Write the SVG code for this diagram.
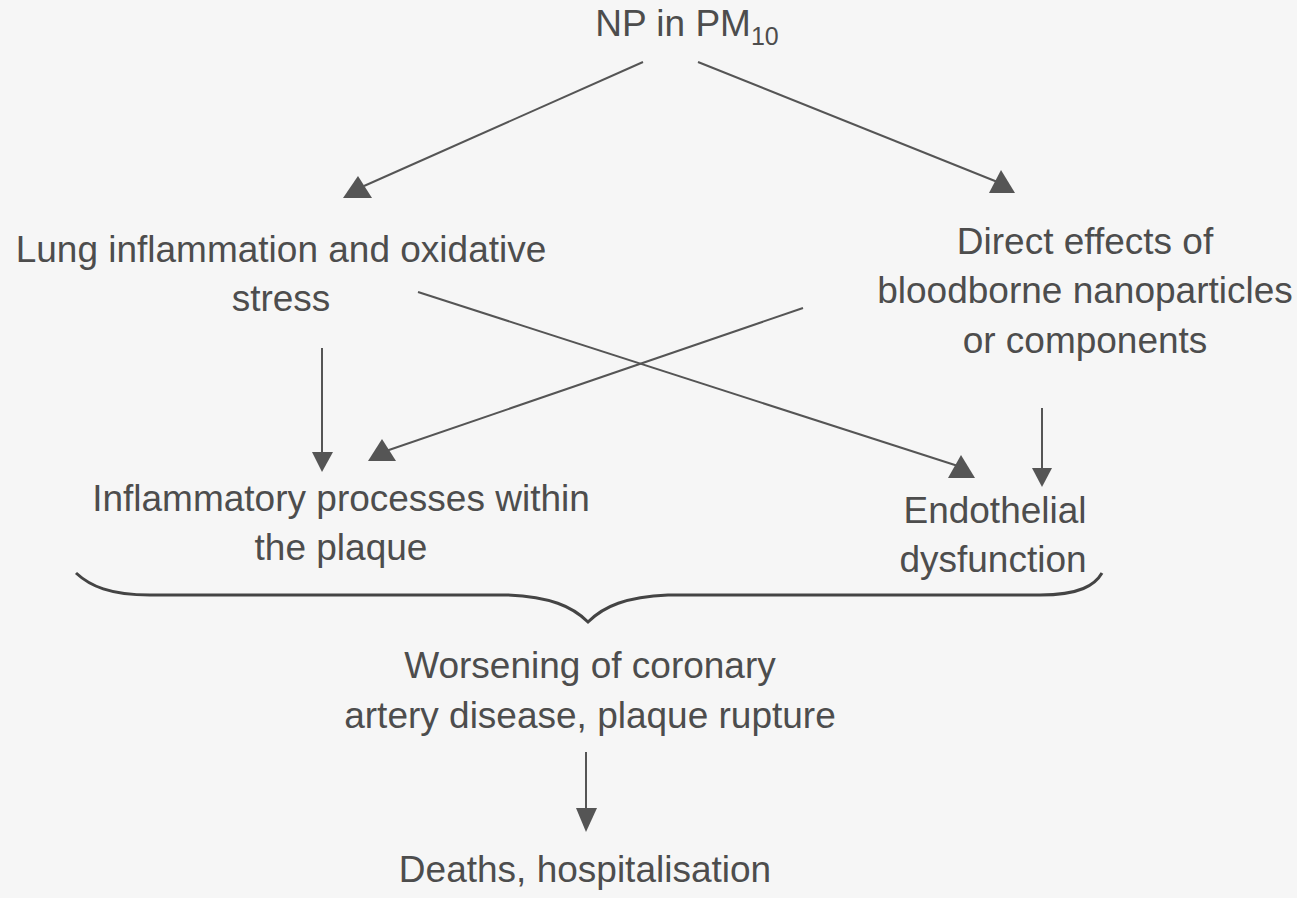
<svg xmlns="http://www.w3.org/2000/svg" width="1297" height="898" viewBox="0 0 1297 898">
<style>
text{font-family:"Liberation Sans",Arial,Helvetica,sans-serif;font-size:37px;fill:#4d4d4d;text-anchor:middle}
.ln{stroke:#555;stroke-width:2;fill:none}
.hd{fill:#555;stroke:none}
.br{stroke:#444;stroke-width:3;fill:none}
</style>
<rect width="1297" height="898" fill="#f6f6f6"/>
<g id="n-np"><text x="687" y="36">NP in PM<tspan font-size="25" dy="9">10</tspan></text></g>
<g id="n-lung"><text x="281" y="262">Lung inflammation and oxidative</text><text x="281" y="311">stress</text></g>
<g id="n-direct"><text x="1085" y="254">Direct effects of</text><text x="1085" y="303">bloodborne nanoparticles</text><text x="1085" y="353">or components</text></g>
<g id="n-inflam"><text x="341" y="511">Inflammatory processes within</text><text x="341" y="560">the plaque</text></g>
<g id="n-endo"><text x="995" y="523">Endothelial</text><text x="993" y="572">dysfunction</text></g>
<g id="n-brace"><path class="br" d="M76,573 C90,586 110,595 150,595 L508,595 C550,597 572,606 588,622 C604,606 626,597 668,595 L1040,595 C1080,595 1095,585 1102,573"/></g>
<g id="n-worse"><text x="590" y="678">Worsening of coronary</text><text x="590" y="728">artery disease, plaque rupture</text></g>
<g id="n-death"><text x="585" y="882">Deaths, hospitalisation</text></g>
<g id="connectors">
<line class="ln" x1="643" y1="62" x2="364" y2="186"/>
<polygon class="hd" points="343,198 358,176 372,198"/>
<line class="ln" x1="698" y1="62" x2="1000" y2="183"/>
<polygon class="hd" points="989,193 1001,170 1015,193"/>
<line class="ln" x1="322" y1="348" x2="322" y2="455"/>
<polygon class="hd" points="312,452 333,452 322,472"/>
<line class="ln" x1="418" y1="292" x2="958" y2="466"/>
<polygon class="hd" points="948,478 961,455 975,478"/>
<line class="ln" x1="803" y1="308" x2="386" y2="451"/>
<polygon class="hd" points="368,461 382,439 396,461"/>
<line class="ln" x1="1042" y1="408" x2="1042" y2="470"/>
<polygon class="hd" points="1032,468 1052,468 1042,487"/>
<line class="ln" x1="586" y1="752" x2="586" y2="810"/>
<polygon class="hd" points="576,808 597,808 586,832"/>
</g>
</svg>
